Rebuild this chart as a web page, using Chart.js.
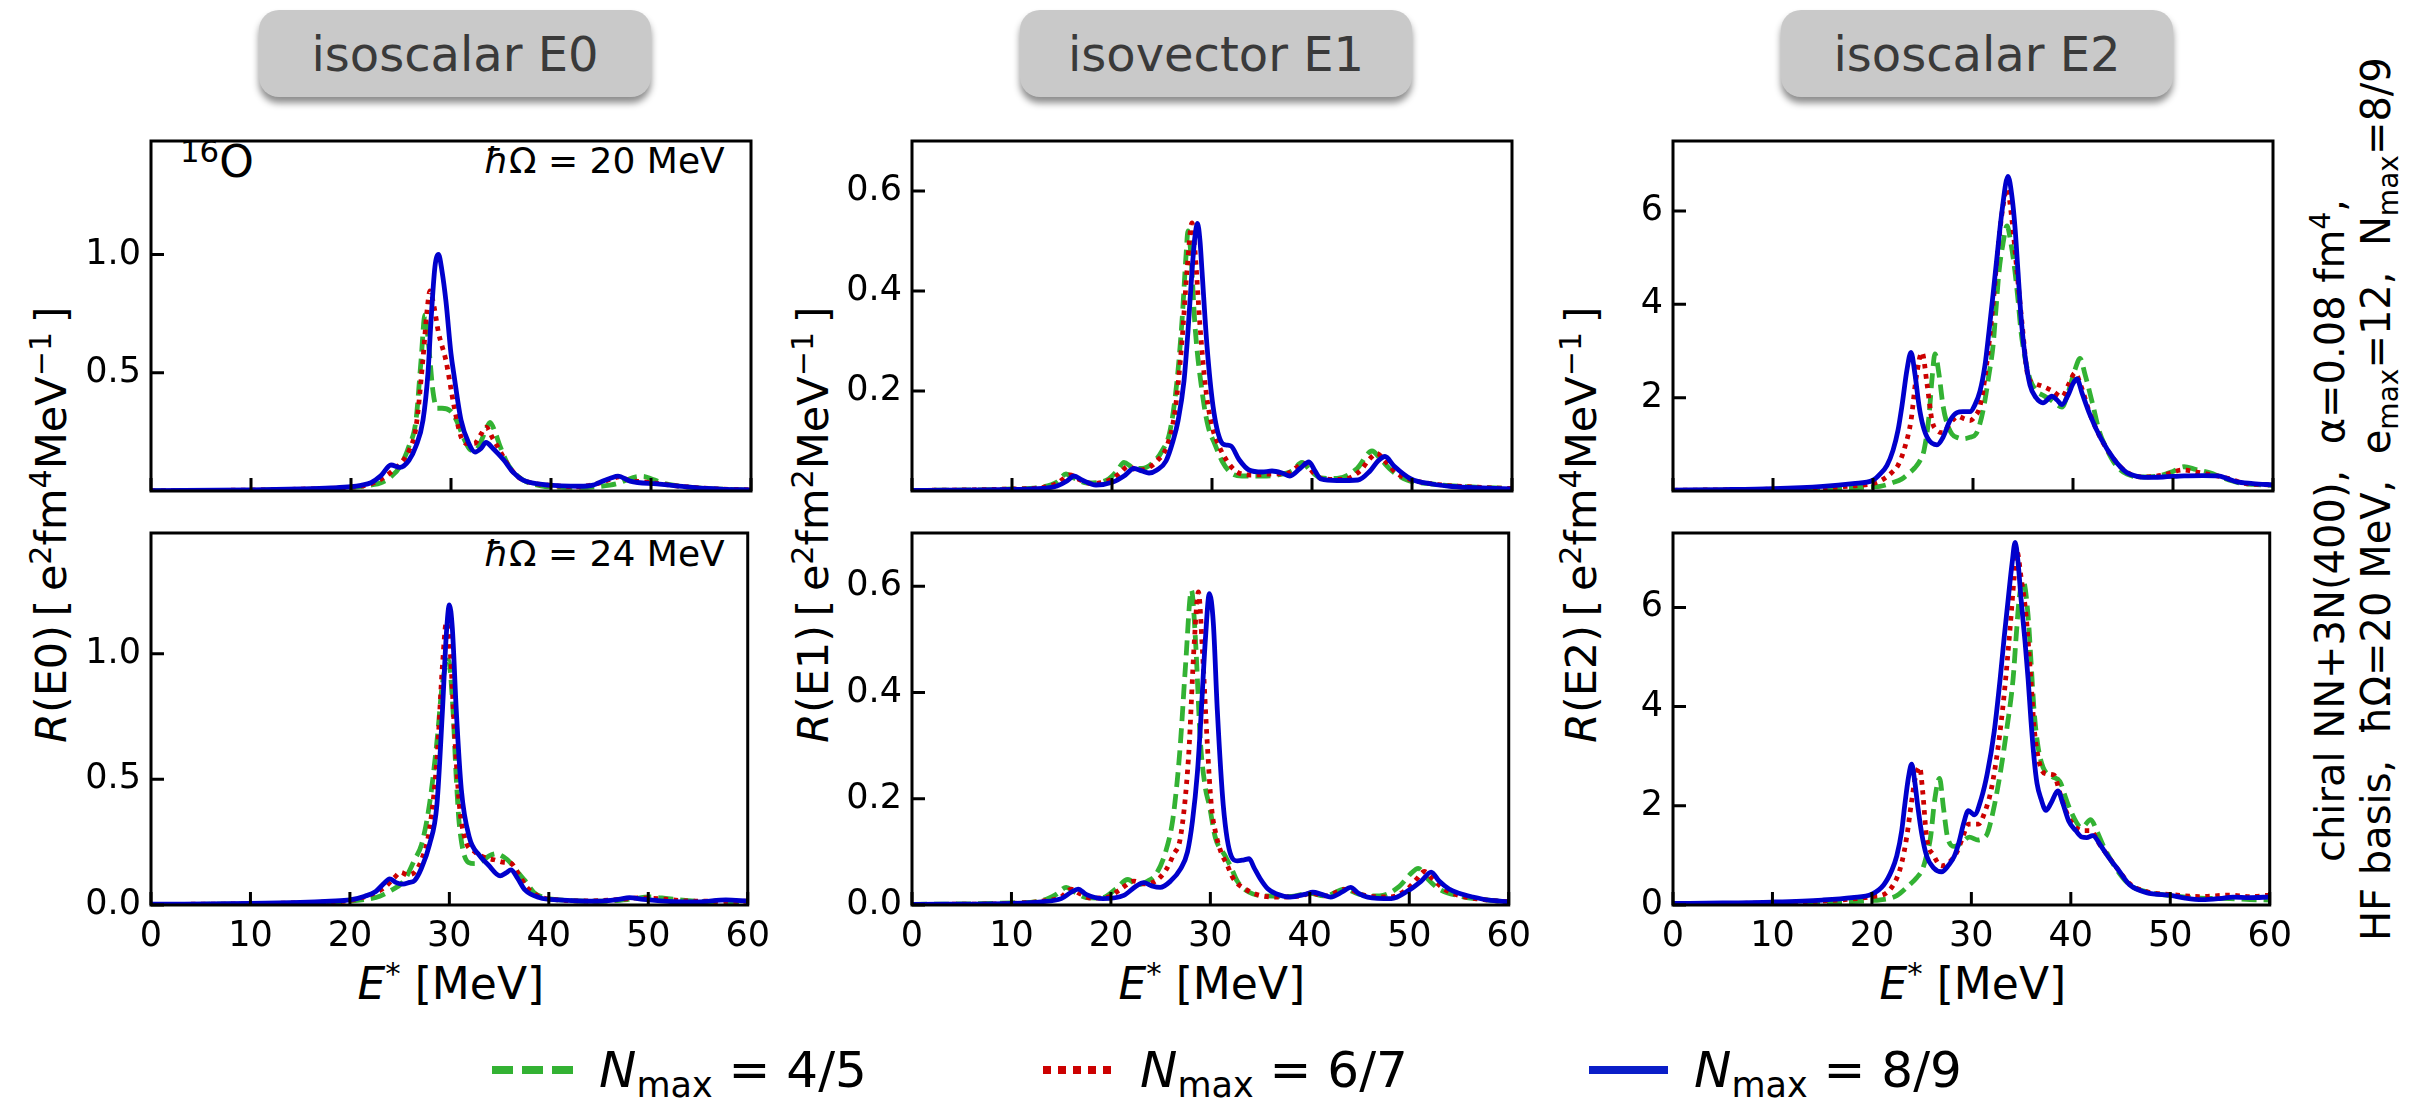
<!DOCTYPE html>
<html>
<head>
<meta charset="utf-8">
<script src="https://cdn.jsdelivr.net/npm/chart.js@4.4.1/dist/chart.umd.min.js"></script>
<style>
  html, body { margin: 0; padding: 0; background: #fff; }
  body { width: 2419px; height: 1102px; position: relative; overflow: hidden; font-family: 'DejaVu Sans', sans-serif; color: #000; }
  canvas { position: absolute; }
  .title { position: absolute; top: 10px; width: 392px; height: 87px; border-radius: 20px; background: #c9c9c9;
           box-shadow: 0 6px 7px rgba(0,0,0,0.45); display: flex; align-items: center; justify-content: center;
           font-size: 48px; color: #3a3a3a; }
  .rot { position: absolute; white-space: nowrap; transform-origin: 0 0; transform: rotate(-90deg); }
  .sup { font-size: 70%; position: relative; top: -0.5em; }
  .sub { font-size: 70%; position: relative; top: 0.28em; }
  .txt { position: absolute; white-space: nowrap; line-height: 1; }
  .leg { position: absolute; top: 1040px; height: 60px; display: flex; align-items: center; font-size: 50px; white-space: nowrap; }
  .leg svg { margin-right: 26px; }
</style>
</head>
<body>
<div class="title" style="left:259px">isoscalar E0</div>
<div class="title" style="left:1020px">isovector E1</div>
<div class="title" style="left:1781px">isoscalar E2</div>

<div class="txt" style="left:180px;top:140px;font-size:44px"><span class="sup">16</span>O</div>
<div class="txt" style="left:484px;top:143px;font-size:36px"><i>ħ</i>Ω = 20 MeV</div>
<div class="txt" style="left:484px;top:536px;font-size:36px"><i>ħ</i>Ω = 24 MeV</div>

<div class="rot" id="yl0" style="font-size:43px"><i>R</i>(E0)&thinsp;[&thinsp;e<span class="sup">2</span>fm<span class="sup">4</span>MeV<span class="sup">−1</span>&thinsp;]</div>
<div class="rot" id="yl1" style="font-size:43px"><i>R</i>(E1)&thinsp;[&thinsp;e<span class="sup">2</span>fm<span class="sup">2</span>MeV<span class="sup">−1</span>&thinsp;]</div>
<div class="rot" id="yl2" style="font-size:43px"><i>R</i>(E2)&thinsp;[&thinsp;e<span class="sup">2</span>fm<span class="sup">4</span>MeV<span class="sup">−1</span>&thinsp;]</div>

<div class="txt xl" id="xl0" style="font-size:44px"><i>E</i><span class="sup">*</span> [MeV]</div>
<div class="txt xl" id="xl1" style="font-size:44px"><i>E</i><span class="sup">*</span> [MeV]</div>
<div class="txt xl" id="xl2" style="font-size:44px"><i>E</i><span class="sup">*</span> [MeV]</div>

<div class="rot" style="left:2307px;top:862px;font-size:40px;line-height:46px">chiral NN+3N(400),&nbsp; α=0.08 fm<span class="sup">4</span>,</div>
<div class="rot" style="left:2353px;top:941px;font-size:40px;line-height:46px">HF basis,&nbsp; ħΩ=20 MeV,&nbsp; e<span class="sub">max</span>=12,&nbsp; N<span class="sub">max</span>=8/9</div>

<div class="leg" style="left:492px"><svg width="81" height="10"><line x1="0" y1="5" x2="81" y2="5" stroke="#33b233" stroke-width="8" stroke-dasharray="21 9"/></svg><span><i>N</i><span class="sub">max</span> = 4/5</span></div>
<div class="leg" style="left:1043px"><svg width="71" height="10"><line x1="0" y1="5" x2="71" y2="5" stroke="#cc0000" stroke-width="8" stroke-dasharray="8 7"/></svg><span><i>N</i><span class="sub">max</span> = 6/7</span></div>
<div class="leg" style="left:1589px"><svg width="79" height="10"><line x1="0" y1="5" x2="79" y2="5" stroke="#0a1ec8" stroke-width="8"/></svg><span><i>N</i><span class="sub">max</span> = 8/9</span></div>

<script>
// ---------------- DATA ----------------
const xTickValues = [0, 10, 20, 30, 40, 50, 60];
const xTickLabels = ['0', '10', '20', '30', '40', '50', '60'];
const seriesNames = ['Nmax = 4/5', 'Nmax = 6/7', 'Nmax = 8/9'];

// isoscalar E0
const e0Max = 1.48;
const e0TicksTop = [0.5, 1.0];
const e0TickLabelsTop = ['0.5', '1.0'];
const e0TicksBottom = [0.0, 0.5, 1.0];
const e0TickLabelsBottom = ['0.0', '0.5', '1.0'];
// isovector E1
const e1Max = 0.70;
const e1TicksTop = [0.2, 0.4, 0.6];
const e1TickLabelsTop = ['0.2', '0.4', '0.6'];
const e1TicksBottom = [0.0, 0.2, 0.4, 0.6];
const e1TickLabelsBottom = ['0.0', '0.2', '0.4', '0.6'];
// isoscalar E2
const e2Max = 7.5;
const e2TicksTop = [2, 4, 6];
const e2TickLabelsTop = ['2', '4', '6'];
const e2TicksBottom = [0, 2, 4, 6];
const e2TickLabelsBottom = ['0', '2', '4', '6'];

// [E* (MeV), R] pairs
// E0, hbarOmega = 20 MeV
const e0_hw20_n45 = [[0,0.001],[10,0.003],[15,0.006],[18,0.01],[20,0.014],[22,0.025],[23,0.035],[24,0.06],[25,0.11],[25.8,0.19],[26.5,0.3],[27.0,0.55],[27.4,0.745],[27.8,0.6],[28.2,0.42],[28.6,0.35],[29.1,0.35],[29.9,0.34],[30.7,0.285],[31.2,0.23],[31.8,0.18],[32.4,0.17],[33.0,0.21],[33.5,0.26],[33.9,0.29],[34.4,0.25],[34.9,0.19],[35.6,0.12],[36.5,0.07],[37.5,0.04],[39,0.022],[41,0.016],[43,0.015],[45,0.02],[46.5,0.03],[47.5,0.045],[48.5,0.06],[49.2,0.062],[50.2,0.048],[51.5,0.03],[53,0.02],[55,0.012],[57.5,0.007],[60,0.004]];
const e0_hw20_n67 = [[0,0.001],[10,0.004],[15,0.008],[18,0.011],[20,0.016],[22,0.03],[23,0.05],[24,0.08],[25,0.12],[25.8,0.17],[26.5,0.27],[27.2,0.56],[27.6,0.76],[27.9,0.846],[28.3,0.78],[28.75,0.67],[29.5,0.55],[30.3,0.36],[31.0,0.23],[31.6,0.2],[32.3,0.2],[33.0,0.24],[33.5,0.27],[34.2,0.22],[34.9,0.17],[35.7,0.11],[36.7,0.06],[38,0.035],[40,0.024],[42.5,0.018],[44.5,0.03],[46.0,0.05],[46.8,0.06],[47.8,0.045],[49.5,0.038],[51,0.03],[53,0.02],[56,0.01],[60,0.005]];
const e0_hw20_n89 = [[0,0.002],[10,0.005],[15,0.009],[18,0.013],[20,0.018],[21,0.024],[22,0.035],[23,0.065],[24,0.11],[24.9,0.10],[25.8,0.13],[26.5,0.19],[27.2,0.30],[27.7,0.5],[28.0,0.72],[28.4,0.95],[28.75,1.0],[29.1,0.93],[29.5,0.8],[30.0,0.58],[30.3,0.49],[31.0,0.30],[31.8,0.2],[32.4,0.165],[33.0,0.18],[33.5,0.205],[34.2,0.18],[35.3,0.13],[36.2,0.08],[37.2,0.046],[39.1,0.028],[41,0.022],[42.9,0.02],[44.2,0.025],[44.8,0.035],[46.0,0.055],[46.7,0.063],[47.9,0.042],[50.6,0.03],[52.5,0.022],[54.4,0.014],[57,0.008],[60,0.005]];
// E0, hbarOmega = 24 MeV
const e0_hw24_n45 = [[0,0.002],[10,0.004],[15,0.007],[18,0.011],[20,0.015],[22,0.025],[23,0.035],[24,0.055],[25.5,0.1],[26.5,0.18],[27.2,0.24],[28.0,0.40],[28.75,0.65],[29.3,0.88],[29.9,0.975],[30.3,0.82],[30.7,0.5],[31.0,0.32],[31.9,0.17],[32.6,0.165],[33.4,0.178],[34.0,0.195],[34.7,0.204],[35.5,0.19],[36.2,0.166],[37,0.125],[37.6,0.097],[38.5,0.05],[39.5,0.03],[42,0.018],[45,0.015],[48,0.022],[50.2,0.032],[52,0.025],[55,0.015],[58,0.01],[60,0.01]];
const e0_hw24_n67 = [[0,0.002],[10,0.005],[15,0.009],[18,0.013],[20,0.018],[22,0.04],[23.5,0.07],[24.5,0.11],[25.1,0.13],[25.8,0.12],[26.5,0.13],[27.2,0.18],[28.0,0.3],[28.75,0.58],[29.3,0.95],[29.7,1.125],[30.1,1.0],[30.5,0.7],[31.0,0.4],[31.6,0.26],[32.6,0.21],[33.5,0.19],[34.5,0.18],[35.5,0.17],[36.2,0.166],[37,0.12],[37.8,0.07],[39,0.035],[41,0.02],[44,0.016],[47,0.022],[49,0.028],[51,0.025],[54,0.016],[57,0.015],[60,0.015]];
const e0_hw24_n89 = [[0,0.003],[10,0.006],[15,0.01],[18,0.015],[20,0.02],[21.5,0.035],[22.6,0.054],[23.4,0.085],[24.0,0.104],[24.6,0.09],[25.3,0.083],[26.0,0.09],[26.5,0.097],[27.2,0.147],[28.0,0.24],[28.75,0.40],[29.3,0.77],[29.7,1.08],[30.0,1.194],[30.3,1.1],[30.7,0.77],[31.2,0.46],[32.0,0.27],[33.0,0.198],[33.9,0.16],[35.1,0.116],[35.7,0.128],[36.2,0.14],[36.8,0.11],[37.6,0.06],[39.1,0.029],[41,0.02],[43,0.016],[45,0.015],[47,0.022],[48.1,0.029],[49.5,0.022],[52.5,0.013],[55,0.012],[57.8,0.02],[60,0.015]];

// E1, hbarOmega = 20 MeV
const e1_hw20_n45 = [[0,0.001],[10,0.004],[13,0.008],[14.5,0.018],[15.4,0.034],[16.2,0.026],[17.5,0.016],[19.5,0.022],[20.5,0.04],[21.2,0.057],[22.0,0.048],[23,0.045],[24,0.055],[25,0.08],[25.8,0.12],[26.5,0.22],[27.0,0.34],[27.4,0.47],[27.6,0.52],[27.9,0.47],[28.3,0.33],[29.0,0.2],[29.6,0.13],[30.3,0.093],[31,0.06],[31.9,0.036],[33,0.03],[35,0.03],[36.5,0.032],[38,0.04],[39.0,0.057],[39.8,0.042],[40.9,0.026],[42.5,0.025],[44.5,0.045],[46.0,0.08],[46.8,0.065],[48,0.04],[49.5,0.022],[52,0.014],[55,0.009],[60,0.005]];
const e1_hw20_n67 = [[0,0.001],[10,0.004],[13,0.007],[14.5,0.015],[15.8,0.032],[16.6,0.024],[18,0.015],[20,0.024],[21.0,0.04],[21.6,0.05],[22.5,0.042],[23.5,0.045],[24.5,0.06],[25.5,0.09],[26.3,0.16],[27.0,0.3],[27.5,0.44],[28.0,0.536],[28.3,0.48],[28.8,0.33],[29.4,0.2],[30.0,0.13],[30.7,0.09],[31.5,0.06],[32.5,0.038],[34,0.032],[36,0.034],[37.5,0.035],[38.5,0.048],[39.3,0.055],[40.2,0.035],[41,0.025],[43,0.023],[44.8,0.04],[45.8,0.065],[46.5,0.075],[47.3,0.06],[48.5,0.035],[50,0.022],[53,0.012],[56,0.008],[60,0.005]];
const e1_hw20_n89 = [[0,0.001],[10,0.003],[13,0.005],[14.5,0.01],[15.5,0.02],[16.2,0.03],[17,0.022],[18.4,0.012],[20.1,0.018],[21.2,0.03],[22.2,0.045],[23,0.04],[23.7,0.036],[24.5,0.042],[25.4,0.06],[26.1,0.1],[26.6,0.14],[27.2,0.22],[27.6,0.32],[28.0,0.44],[28.3,0.51],[28.55,0.535],[28.8,0.5],[29.0,0.44],[29.5,0.29],[30.1,0.17],[30.9,0.099],[31.4,0.092],[31.9,0.090],[32.7,0.063],[33.7,0.042],[35,0.038],[36.0,0.04],[37.0,0.036],[37.8,0.03],[38.8,0.045],[39.7,0.058],[40.3,0.04],[40.9,0.024],[42.5,0.021],[44.6,0.022],[45.8,0.04],[46.6,0.06],[47.3,0.069],[48.2,0.05],[49.9,0.024],[52,0.014],[54,0.009],[57,0.006],[60,0.004]];
// E1, hbarOmega = 24 MeV
const e1_hw24_n45 = [[0,0.001],[10,0.004],[13,0.008],[14.5,0.02],[15.5,0.033],[16.3,0.025],[17.5,0.014],[19,0.013],[20.5,0.03],[21.7,0.048],[22.7,0.038],[23.7,0.045],[24.5,0.057],[25.5,0.1],[26.2,0.158],[26.7,0.24],[27.0,0.307],[27.5,0.45],[28.1,0.592],[28.5,0.5],[29.0,0.307],[29.5,0.22],[29.9,0.187],[30.5,0.127],[31.5,0.092],[32.1,0.07],[32.7,0.045],[33.9,0.024],[35.5,0.017],[38,0.016],[40,0.022],[41.5,0.017],[43.5,0.03],[45,0.02],[47,0.017],[49,0.035],[50.2,0.06],[50.9,0.069],[51.8,0.05],[53,0.03],[55,0.017],[57.5,0.01],[60,0.006]];
const e1_hw24_n67 = [[0,0.001],[10,0.003],[13,0.007],[15,0.015],[16.0,0.03],[16.8,0.022],[18,0.013],[19.5,0.014],[21,0.03],[22.3,0.045],[23.3,0.04],[24.5,0.045],[25.5,0.065],[26.3,0.095],[27.0,0.128],[27.8,0.277],[28.4,0.5],[28.8,0.589],[29.2,0.48],[29.7,0.3],[30.1,0.187],[30.6,0.13],[31.1,0.098],[31.7,0.075],[32.3,0.05],[33.5,0.03],[35,0.018],[37,0.015],[39,0.017],[40.2,0.022],[41.5,0.017],[43.7,0.03],[45.5,0.018],[48,0.015],[49.8,0.03],[50.8,0.05],[51.5,0.063],[52.3,0.05],[53.5,0.03],[55,0.018],[57.5,0.01],[60,0.006]];
const e1_hw24_n89 = [[0,0.001],[10,0.003],[13,0.006],[15,0.012],[16.0,0.024],[16.7,0.03],[17.5,0.02],[19.2,0.012],[21.3,0.018],[22.5,0.035],[23.3,0.042],[24.1,0.036],[24.96,0.033],[26.0,0.045],[27.0,0.068],[27.7,0.1],[28.2,0.158],[28.7,0.25],[29.0,0.336],[29.5,0.5],[29.9,0.586],[30.3,0.53],[30.7,0.366],[31.3,0.187],[32.1,0.092],[32.7,0.083],[33.4,0.085],[33.9,0.087],[34.4,0.07],[35.0,0.05],[35.8,0.03],[36.6,0.021],[38,0.015],[39.5,0.02],[40.3,0.024],[41.2,0.02],[42.1,0.015],[43.3,0.025],[44.1,0.033],[44.9,0.022],[45.8,0.015],[48.2,0.012],[49.9,0.027],[51.2,0.045],[52.2,0.062],[53.0,0.045],[54,0.03],[55,0.022],[56.4,0.015],[58,0.009],[60,0.006]];

// E2, hbarOmega = 20 MeV
const e2_hw20_n45 = [[0,0.01],[10,0.03],[15,0.05],[18,0.07],[20,0.09],[20.7,0.1],[22,0.18],[22.9,0.26],[23.6,0.38],[24.2,0.5],[24.7,0.65],[25.1,0.87],[25.6,1.6],[25.9,2.4],[26.2,2.94],[26.6,2.5],[27.0,1.83],[27.4,1.45],[27.9,1.22],[28.5,1.14],[29.0,1.12],[29.7,1.15],[30.3,1.22],[30.7,1.45],[31.1,1.83],[31.6,2.5],[32.0,3.1],[32.3,3.9],[32.6,4.7],[33.0,5.3],[33.4,5.68],[33.8,5.3],[34.2,4.7],[34.5,4.1],[34.8,3.42],[35.2,2.85],[35.7,2.4],[36.3,2.15],[37.0,2.05],[37.8,1.95],[38.4,1.85],[38.9,1.8],[39.5,2.1],[40.2,2.6],[40.7,2.84],[41.2,2.5],[42.0,1.83],[42.6,1.3],[43.3,0.93],[44.3,0.55],[45.4,0.36],[47,0.3],[48.5,0.32],[50,0.42],[51.1,0.52],[52.3,0.46],[53.7,0.39],[55,0.28],[56.5,0.18],[58,0.14],[60,0.12]];
const e2_hw20_n67 = [[0,0.015],[10,0.04],[15,0.07],[18,0.11],[20,0.16],[21,0.25],[22,0.42],[22.5,0.55],[23.2,0.95],[23.8,1.51],[24.3,2.4],[24.9,2.97],[25.4,2.3],[25.9,1.51],[26.4,1.3],[27.0,1.25],[27.7,1.45],[28.5,1.6],[29.1,1.55],[29.7,1.51],[30.2,1.6],[30.7,1.82],[31.3,2.6],[32.0,4.0],[32.5,5.2],[33.0,6.1],[33.4,6.48],[33.9,5.8],[34.4,4.7],[34.9,3.6],[35.5,2.46],[36.2,2.3],[37.0,2.24],[37.9,2.15],[38.9,2.02],[39.6,2.3],[40.2,2.53],[40.8,2.25],[41.7,1.65],[42.8,1.12],[44.1,0.68],[45.4,0.4],[47,0.3],[49,0.34],[51,0.45],[52.5,0.4],[54,0.34],[55.5,0.27],[57,0.17],[60,0.13]];
const e2_hw20_n89 = [[0,0.02],[5,0.03],[10,0.05],[15,0.1],[18,0.16],[20,0.23],[20.7,0.36],[21.4,0.55],[22.0,0.87],[22.5,1.3],[22.9,1.83],[23.4,2.6],[23.8,2.97],[24.2,2.5],[24.6,1.83],[25.0,1.4],[25.5,1.12],[26.4,0.99],[27.0,1.15],[27.7,1.51],[28.4,1.68],[29.0,1.70],[29.7,1.70],[30.2,1.85],[30.7,2.14],[31.2,2.7],[31.6,3.42],[32.0,4.2],[32.4,5.02],[32.9,6.0],[33.5,6.74],[33.9,6.3],[34.2,5.65],[34.5,4.7],[34.8,3.74],[35.2,2.9],[35.7,2.27],[36.3,2.0],[37.0,1.89],[37.9,2.03],[38.4,1.95],[38.9,1.85],[39.5,2.05],[40.0,2.3],[40.4,2.4],[40.9,2.1],[41.7,1.63],[42.8,1.12],[44.1,0.68],[45.4,0.39],[46.3,0.32],[47.2,0.29],[49,0.3],[51.1,0.325],[53,0.33],[54.5,0.325],[55.5,0.26],[56.3,0.2],[58,0.16],[60,0.13]];
// E2, hbarOmega = 24 MeV
const e2_hw24_n45 = [[0,0.01],[10,0.03],[15,0.05],[18,0.07],[20,0.09],[20.7,0.1],[22.5,0.19],[23.8,0.41],[24.5,0.55],[25.1,0.73],[25.5,1.0],[25.9,1.37],[26.3,2.1],[26.8,2.55],[27.2,1.95],[27.6,1.37],[28.3,1.18],[29.0,1.25],[29.8,1.37],[30.7,1.31],[31.2,1.35],[31.6,1.44],[32.2,1.9],[32.9,2.65],[33.6,3.6],[34.2,4.57],[34.5,5.4],[34.8,6.16],[35.2,6.55],[35.7,5.84],[36.0,4.9],[36.3,3.93],[36.7,3.2],[37.2,2.78],[38.1,2.59],[38.9,2.49],[39.5,2.15],[40.0,1.89],[41.1,1.56],[42.0,1.72],[42.6,1.5],[43.3,1.18],[44.5,0.75],[45.9,0.41],[48,0.25],[50,0.19],[53,0.14],[56,0.13],[58,0.11],[60,0.1]];
const e2_hw24_n67 = [[0,0.02],[10,0.045],[15,0.08],[18,0.12],[20,0.17],[21.5,0.25],[22.5,0.54],[23.0,0.85],[23.5,1.37],[24.0,2.1],[24.4,2.6],[24.8,2.78],[25.1,2.3],[25.5,1.37],[26.2,1.0],[27.0,0.79],[27.7,0.85],[28.5,1.05],[29.1,1.35],[29.7,1.63],[30.2,1.63],[30.7,1.63],[31.4,1.9],[32.0,2.33],[32.7,3.2],[33.3,4.25],[33.9,5.6],[34.3,6.6],[34.6,7.12],[35.0,6.6],[35.5,5.84],[36.0,4.5],[36.3,3.6],[36.8,2.9],[37.4,2.65],[38.3,2.62],[38.9,2.26],[39.5,1.9],[40.2,1.63],[41.3,1.5],[42.0,1.5],[42.8,1.25],[43.7,1.0],[44.8,0.7],[45.9,0.43],[47.6,0.27],[50.2,0.21],[53,0.17],[56,0.2],[58,0.17],[60,0.2]];
const e2_hw24_n89 = [[0,0.03],[5,0.04],[10,0.06],[15,0.1],[18,0.15],[20,0.22],[21.2,0.41],[22,0.7],[22.5,0.99],[23.0,1.5],[23.3,2.01],[23.7,2.6],[24.0,2.84],[24.3,2.5],[24.6,2.01],[25.0,1.45],[25.5,0.99],[26.2,0.75],[27.0,0.67],[27.7,0.8],[28.3,0.99],[28.8,1.3],[29.2,1.63],[29.7,1.9],[30.3,1.82],[31.0,2.15],[31.6,2.65],[32.3,3.5],[32.9,4.57],[33.3,5.4],[33.7,6.16],[34.1,6.9],[34.4,7.31],[34.7,6.9],[35.0,6.16],[35.4,5.3],[35.7,4.57],[36.0,3.7],[36.3,2.97],[36.6,2.45],[37.0,2.14],[37.5,1.91],[38.0,2.05],[38.7,2.3],[39.2,2.05],[39.8,1.69],[40.5,1.5],[41.1,1.37],[41.6,1.36],[42.2,1.4],[43.0,1.2],[43.7,0.99],[44.8,0.7],[45.9,0.41],[47.6,0.25],[50.2,0.19],[51.5,0.14],[53.2,0.107],[55,0.13],[56.3,0.16],[58,0.15],[60,0.16]];

// ---------------- LAYOUT / STYLE ----------------
const colGreen = '#33b233', colRed = '#cc0000', colBlue = '#0000cc';
const panelLeft = [151, 912, 1673];
const rowTop = [120, 512];
const rowH = [392, 393];
const PW = 600;

Chart.defaults.font.family = "'DejaVu Sans', sans-serif";
Chart.defaults.color = '#000';

const framePlugin = {
  id: 'frameTicks',
  afterDatasetsDraw(chart) {
    const { ctx, chartArea: a, scales } = chart;
    const x = scales.x, y = scales.y;
    ctx.save();
    ctx.strokeStyle = '#000';
    ctx.lineWidth = 3;
    ctx.lineCap = 'butt';
    ctx.strokeRect(a.left, a.top, a.right - a.left, a.bottom - a.top);
    ctx.beginPath();
    x.ticks.forEach(t => {
      const px = x.getPixelForValue(t.value);
      ctx.moveTo(px, a.bottom); ctx.lineTo(px, a.bottom - 13);
    });
    y.ticks.forEach(t => {
      const py = y.getPixelForValue(t.value);
      ctx.moveTo(a.left, py); ctx.lineTo(a.left + 13, py);
    });
    ctx.stroke();
    ctx.restore();
  }
};

function pts(arr) { return arr.map(p => ({ x: p[0], y: p[1] })); }

function makePanel(col, row, series, yMax, yTicks, yLabels) {
  const padL = 110, padR = 30, padT = 10, padB = row === 1 ? 70 : 10;
  const L = panelLeft[col], T = rowTop[row], H = rowH[row];
  const cv = document.createElement('canvas');
  const w = padL + PW + padR, h = padT + H + padB;
  cv.width = w; cv.height = h;
  cv.style.left = (L - padL) + 'px';
  cv.style.top = (T - padT) + 'px';
  cv.style.width = w + 'px'; cv.style.height = h + 'px';
  document.body.appendChild(cv);
  const common = { pointRadius: 0, borderWidth: 4.8, fill: false, cubicInterpolationMode: 'monotone', borderCapStyle: 'butt' };
  new Chart(cv, {
    type: 'line',
    data: {
      datasets: [
        Object.assign({ label: seriesNames[2], data: pts(series[2]), borderColor: colBlue }, common),
        Object.assign({ label: seriesNames[1], data: pts(series[1]), borderColor: colRed, borderDash: [4.5, 5.5] }, common),
        Object.assign({ label: seriesNames[0], data: pts(series[0]), borderColor: colGreen, borderDash: [15, 7] }, common)
      ]
    },
    options: {
      responsive: false, animation: false, devicePixelRatio: 1,
      layout: { padding: { left: 0, right: padR, top: padT, bottom: 0 } },
      plugins: { legend: { display: false }, tooltip: { enabled: false } },
      scales: {
        x: {
          type: 'linear', min: 0, max: 60,
          grid: { display: false, drawTicks: false }, border: { display: false },
          afterBuildTicks: s => { s.ticks = xTickValues.map(v => ({ value: v })); },
          afterFit: s => { s.height = padB; },
          ticks: { display: row === 1, padding: 11, font: { size: 35 }, maxRotation: 0, autoSkip: false,
                   callback: (v, i) => xTickLabels[i] }
        },
        y: {
          type: 'linear', min: 0, max: yMax,
          grid: { display: false, drawTicks: false }, border: { display: false },
          afterBuildTicks: s => { s.ticks = yTicks.map(v => ({ value: v })); },
          afterFit: s => { s.width = padL; },
          ticks: { padding: 10, font: { size: 35 }, autoSkip: false, callback: (v, i) => yLabels[i] }
        }
      }
    },
    plugins: [framePlugin]
  });
}

makePanel(0, 0, [e0_hw20_n45, e0_hw20_n67, e0_hw20_n89], e0Max, e0TicksTop, e0TickLabelsTop);
makePanel(0, 1, [e0_hw24_n45, e0_hw24_n67, e0_hw24_n89], e0Max, e0TicksBottom, e0TickLabelsBottom);
makePanel(1, 0, [e1_hw20_n45, e1_hw20_n67, e1_hw20_n89], e1Max, e1TicksTop, e1TickLabelsTop);
makePanel(1, 1, [e1_hw24_n45, e1_hw24_n67, e1_hw24_n89], e1Max, e1TicksBottom, e1TickLabelsBottom);
makePanel(2, 0, [e2_hw20_n45, e2_hw20_n67, e2_hw20_n89], e2Max, e2TicksTop, e2TickLabelsTop);
makePanel(2, 1, [e2_hw24_n45, e2_hw24_n67, e2_hw24_n89], e2Max, e2TicksBottom, e2TickLabelsBottom);

// position rotated y labels (centred) and x labels (centred under each panel)
const yLabelOffsets = [100, 99, 92];
for (let c = 0; c < 3; c++) {
  const el = document.getElementById('yl' + c);
  const wdt = el.offsetWidth, hgt = el.offsetHeight;
  const cx = panelLeft[c] - yLabelOffsets[c], cy = 525;
  el.style.left = (cx - hgt / 2) + 'px';
  el.style.top = (cy + wdt / 2) + 'px';
  const xl = document.getElementById('xl' + c);
  xl.style.left = (panelLeft[c] + PW / 2 - xl.offsetWidth / 2) + 'px';
  xl.style.top = '962px';
}
</script>
</body>
</html>
